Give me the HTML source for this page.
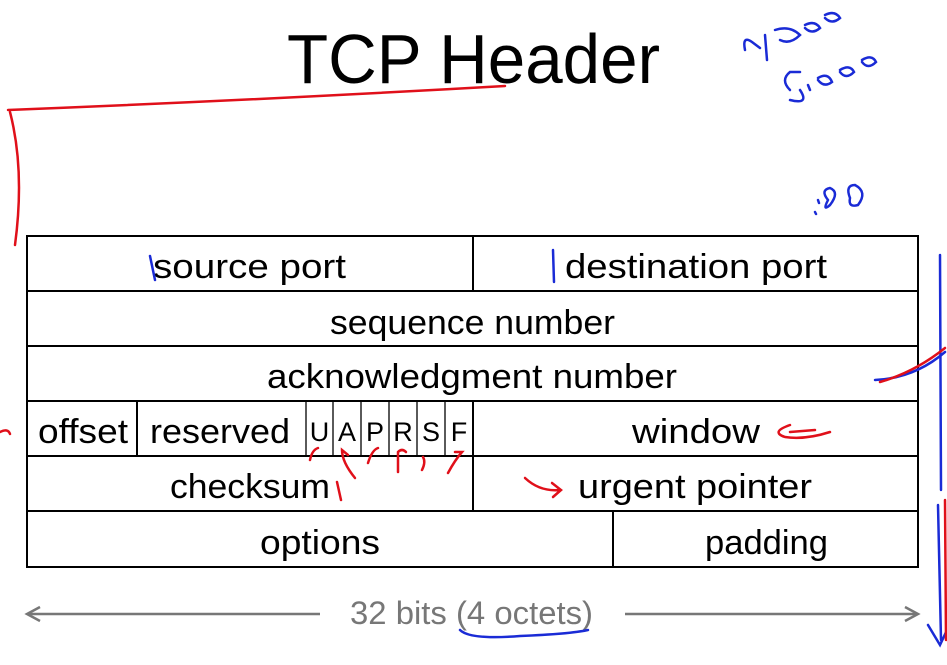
<!DOCTYPE html>
<html><head><meta charset="utf-8"><style>
html,body{margin:0;padding:0;background:#fff;}
svg{display:block;}
text{font-family:"Liberation Sans",sans-serif;}
</style></head><body>
<svg width="947" height="665" viewBox="0 0 947 665" xmlns="http://www.w3.org/2000/svg">
<text x="287" y="83" font-size="70" textLength="373" lengthAdjust="spacingAndGlyphs" fill="#000">TCP Header</text>
<g stroke="#000" stroke-width="2" fill="none">
<rect x="27" y="236" width="891" height="331"/>
<line x1="27" y1="291" x2="918" y2="291"/>
<line x1="27" y1="346" x2="918" y2="346"/>
<line x1="27" y1="401" x2="918" y2="401"/>
<line x1="27" y1="456" x2="918" y2="456"/>
<line x1="27" y1="511" x2="918" y2="511"/>
<line x1="473" y1="236" x2="473" y2="291"/>
<line x1="137" y1="401" x2="137" y2="456"/>
<line x1="473" y1="401" x2="473" y2="511"/>
<line x1="613" y1="511" x2="613" y2="567"/>
</g>
<g stroke="#000" stroke-width="1.3">
<line x1="306" y1="401" x2="306" y2="456"/>
<line x1="333" y1="401" x2="333" y2="456"/>
<line x1="361" y1="401" x2="361" y2="456"/>
<line x1="389" y1="401" x2="389" y2="456"/>
<line x1="417" y1="401" x2="417" y2="456"/>
<line x1="445" y1="401" x2="445" y2="456"/>
</g>
<g font-size="34" fill="#000">
<text x="153" y="278" textLength="193" lengthAdjust="spacingAndGlyphs">source port</text>
<text x="565" y="278" textLength="262" lengthAdjust="spacingAndGlyphs">destination port</text>
<text x="330" y="334" textLength="285" lengthAdjust="spacingAndGlyphs">sequence number</text>
<text x="267" y="388" textLength="410" lengthAdjust="spacingAndGlyphs">acknowledgment number</text>
<text x="38" y="443" textLength="90" lengthAdjust="spacingAndGlyphs">offset</text>
<text x="150" y="443" textLength="140" lengthAdjust="spacingAndGlyphs">reserved</text>
<text x="632" y="443" textLength="128" lengthAdjust="spacingAndGlyphs">window</text>
<text x="170" y="498" textLength="160" lengthAdjust="spacingAndGlyphs">checksum</text>
<text x="578" y="498" textLength="234" lengthAdjust="spacingAndGlyphs">urgent pointer</text>
<text x="260" y="554" textLength="120" lengthAdjust="spacingAndGlyphs">options</text>
<text x="705" y="554" textLength="123" lengthAdjust="spacingAndGlyphs">padding</text>
</g>
<g font-size="27" fill="#000" text-anchor="middle">
<text x="319.5" y="441">U</text>
<text x="347" y="441">A</text>
<text x="375" y="441">P</text>
<text x="403" y="441">R</text>
<text x="431" y="441">S</text>
<text x="459" y="441">F</text>
</g>
<g stroke="#777" stroke-width="2.5" fill="none">
<line x1="28" y1="614" x2="320" y2="614"/>
<polyline points="40,607 27,614 40,621"/>
<line x1="625" y1="614" x2="917" y2="614"/>
<polyline points="905,607 918,614 905,621"/>
</g>
<text x="350" y="624" font-size="32" fill="#777" textLength="243" lengthAdjust="spacingAndGlyphs">32 bits (4 octets)</text>
<g fill="none" stroke-linecap="round" stroke-width="2.5">
<path d="M460 630 Q470 640 520 636 Q570 634 588 630" stroke="#1a2bd6"/>
<path d="M150 256 L155 280" stroke="#1a2bd6"/>
<path d="M553 250 L554 282" stroke="#1a2bd6"/>
<path d="M8 110 Q260 100 505 86" stroke="#e0101a"/>
<path d="M10 112 Q25 170 15 245" stroke="#e0101a"/>
<path d="M940 255 L941 490" stroke="#1a2bd6"/>
<path d="M875 380 Q915 378 945 352" stroke="#1a2bd6"/>
<path d="M880 382 Q915 372 945 348" stroke="#e0101a"/>
<path d="M938 505 L941 640 M928 625 L940 645 L947 630" stroke="#1a2bd6"/>
<path d="M945 500 L946 640" stroke="#e0101a"/>
<path d="M790 425 Q770 432 785 437 Q805 440 830 432 M790 432 L815 430" stroke="#e0101a"/>
<path d="M525 478 Q540 492 560 490 M552 483 L561 490 L553 497" stroke="#e0101a"/>
<path d="M337 482 L341 500" stroke="#e0101a"/>
<path d="M310 460 Q312 450 318 448" stroke="#e0101a"/>
<path d="M355 478 Q342 462 342 450 L348 455" stroke="#e0101a"/>
<path d="M368 463 Q372 450 378 448" stroke="#e0101a"/>
<path d="M398 472 L398 452 Q402 448 406 452" stroke="#e0101a"/>
<path d="M422 470 Q426 462 423 457" stroke="#e0101a"/>
<path d="M448 473 Q455 460 462 452 L455 452" stroke="#e0101a"/>
<path d="M0 432 Q8 428 10 434" stroke="#e0101a"/>
<path d="M745 50 Q742 35 752 42 L760 48 M765 35 L767 60 M775 30 Q790 25 800 35 Q790 45 780 40 M805 25 Q815 20 820 28 Q812 35 805 28 M825 15 Q835 10 840 18 Q832 25 825 18" stroke="#1a2bd6"/>
<path d="M790 90 Q780 80 790 72 L800 72 M790 100 Q810 105 800 90 M808 85 L810 90 M818 78 Q828 72 832 82 Q824 88 818 80 M840 70 Q850 64 854 72 Q846 80 840 72 M862 60 Q872 54 876 62 Q868 70 862 62" stroke="#1a2bd6"/>
<path d="M815 212 L816 214 M818 200 L819 203 M828 200 Q820 190 830 188 Q840 192 830 205 Q822 212 828 200 M850 198 Q845 185 855 185 Q868 192 858 205 Q848 208 850 198" stroke="#1a2bd6"/>
</g>
</svg>
</body></html>
